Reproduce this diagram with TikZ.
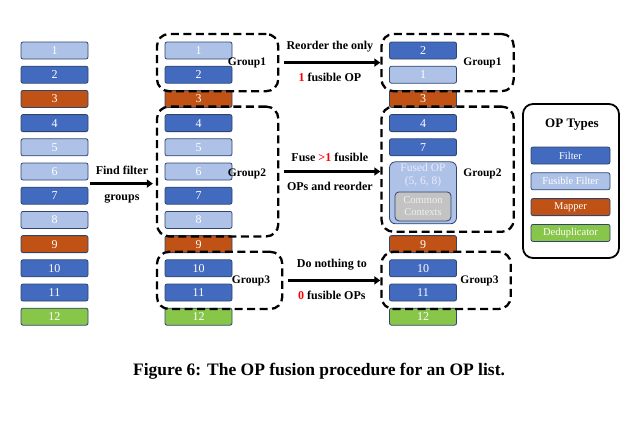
\documentclass[tikz,border=0pt]{standalone}
\usepackage{fontspec}
\setmainfont{Liberation Serif}
\usepackage{xcolor}
\usetikzlibrary{arrows.meta, positioning, fit, calc}

\definecolor{filterblue}{RGB}{66,106,190}
\definecolor{fusibleblue}{RGB}{173,194,230}
\definecolor{mapperorange}{RGB}{191,82,20}
\definecolor{dedupgreen}{RGB}{135,198,72}
\definecolor{opborder}{RGB}{47,69,110}
\definecolor{ctxgray}{RGB}{195,195,195}

\begin{document}
\begin{tikzpicture}[x=1pt, y=1pt,
  op/.style={draw=opborder, line width=0.8pt, rounded corners=2pt, minimum width=67pt, minimum height=17pt, inner sep=0pt, outer sep=0pt, text=white, font=\fontsize{12}{13}\selectfont},
  filter/.style={op, fill=filterblue},
  fusible/.style={op, fill=fusibleblue},
  mapper/.style={op, fill=mapperorange},
  dedup/.style={op, fill=dedupgreen},
  group/.style={draw, line width=2.3pt, dash pattern=on 8pt off 4.5pt, rounded corners=12pt, inner sep=8pt},
  glabel/.style={font=\bfseries\fontsize{11.5}{13}\selectfont, inner xsep=4pt, inner ysep=1pt},
  lbl/.style={font=\bfseries\fontsize{12}{13}\selectfont, inner sep=1pt},
  arrow/.style={-{Triangle[length=6pt, width=8pt]}, line width=2.6pt},
  key/.style={minimum width=79pt, font=\fontsize{10.5}{12}\selectfont},
  node distance=7.2pt
]
  \useasboundingbox (0,0) rectangle (638,-426);

  % original OP list
  \node[fusible] (l1) at (54.5,-50.5) {1};
  \node[filter, below=of l1] (l2) {2};
  \node[mapper, below=of l2] (l3) {3};
  \node[filter, below=of l3] (l4) {4};
  \node[fusible, below=of l4] (l5) {5};
  \node[fusible, below=of l5] (l6) {6};
  \node[filter, below=of l6] (l7) {7};
  \node[fusible, below=of l7] (l8) {8};
  \node[mapper, below=of l8] (l9) {9};
  \node[filter, below=of l9] (l10) {10};
  \node[filter, below=of l10] (l11) {11};
  \node[dedup, below=of l11] (l12) {12};

  % grouped list
  \node[fusible] (m1) at (198.5,-50.5) {1};
  \node[filter, below=of m1] (m2) {2};
  \node[mapper, below=of m2] (m3) {3};
  \node[filter, below=of m3] (m4) {4};
  \node[fusible, below=of m4] (m5) {5};
  \node[fusible, below=of m5] (m6) {6};
  \node[filter, below=of m6] (m7) {7};
  \node[fusible, below=of m7] (m8) {8};
  \node[mapper, below=of m8] (m9) {9};
  \node[filter, below=of m9] (m10) {10};
  \node[filter, below=of m10] (m11) {11};
  \node[dedup, below=of m11] (m12) {12};

  \node[glabel] (g1lab) at ($(m1.east)!0.5!(m2.east)+(15,0)$) {Group1};
  \node[glabel] (g2lab) at ($(m6.east)+(15,-2)$) {Group2};
  \node[glabel] (g3lab) at ($(m10.east)!0.5!(m11.east)+(19,-1)$) {Group3};
  \node[group, fit=(m1)(m2)(g1lab)] (gm1) {};
  \node[group, fit=(m4)(m8)(g2lab)] (gm2) {};
  \node[group, fit=(m10)(m11)(g3lab)] (gm3) {};

  % fused list
  \node[filter] (r2) at (423,-50.5) {2};
  \node[fusible, below=of r2] (r1) {1};
  \node[mapper, below=of r1] (r3) {3};
  \node[filter, below=of r3] (r4) {4};
  \node[filter, below=of r4] (r7) {7};
  \node[op, fill=fusibleblue, rounded corners=6pt, minimum height=62pt, below=6pt of r7] (fused) {};
  \node[align=center, inner sep=0.5pt, text=white!92!blue, font=\fontsize{11.5}{13.5}\selectfont, below=1pt of fused.north] (fusedtxt) {Fused OP\\(5, 6, 8)};
  \node[draw=opborder, line width=0.8pt, fill=ctxgray, rounded corners=4pt, minimum width=56pt, minimum height=29pt, align=center, text=white!94!black, font=\fontsize{10.5}{12}\selectfont, above=2.5pt of fused.south] (ctx) {Common\\Contexts};
  \node[mapper] (r9) at (m9 -| r7) {9};
  \node[filter, below=of r9] (r10) {10};
  \node[filter, below=of r10] (r11) {11};
  \node[dedup, below=of r11] (r12) {12};

  \node[glabel] (g1labr) at ($(r2.east |- g1lab)+(26,0)$) {Group1};
  \node[glabel] (g2labr) at ($(r2.east |- g2lab)+(26,0)$) {Group2};
  \node[glabel] (g3labr) at ($(r2.east |- g3lab)+(23,0)$) {Group3};
  \node[group, fit=(r2)(r1)(g1labr)] (gr1) {};
  \node[group, fit=(r4)(fused)(g2labr)] (gr2) {};
  \node[group, fit=(r10)(r11)(g3labr)] (gr3) {};

  % steps
  \coordinate (fstart) at ($(l6.east)!0.5!(l7.east)$);
  \draw[arrow, shorten <=2pt, shorten >=3pt] (fstart) -- (fstart -| gm2.west)
    node[lbl, midway, above=7pt] (find1) {Find filter}
    node[lbl, midway, below=8pt] (find2) {groups};
  \draw[arrow, shorten <=5pt] (gm1.east) -- (gm1.east -| gr1.west)
    node[lbl, midway, above=8pt] (re1) {Reorder the only}
    node[lbl, midway, below=8pt] (re2) {\textcolor{red}{1} fusible OP};
  \draw[arrow, shorten <=5pt] (gm2.east) -- (gm2.east -| gr2.west)
    node[lbl, midway, above=8pt] (fu1) {Fuse \textcolor{red}{>1} fusible}
    node[lbl, midway, below=8pt] (fu2) {OPs and reorder};
  \draw[arrow, shorten <=5pt] (gm3.east) -- (gm3.east -| gr3.west)
    node[lbl, midway, above=8pt] (dn1) {Do nothing to}
    node[lbl, midway, below=8pt] (dn2) {\textcolor{red}{0} fusible OPs};

  % legend
  \node[draw, line width=1.8pt, rounded corners=10pt, minimum width=96pt, minimum height=154pt] (legend) at (571,-181) {};
  \node[font=\bfseries\fontsize{13}{15}\selectfont] (ltitle) at (572,-125) {OP Types};
  \node[filter, key] (kfilter) at (570.5,-155.5) {Filter};
  \node[fusible, key, below=8.8pt of kfilter] (kfusible) {Fusible Filter};
  \node[mapper, key, below=8.8pt of kfusible] (kmapper) {Mapper};
  \node[dedup, key, below=8.8pt of kmapper] (kdedup) {Deduplicator};

  \node[font=\bfseries\fontsize{17.5}{20}\selectfont] (caption) at (319,-371) {Figure 6: The OP fusion procedure for an OP list.};
\end{tikzpicture}
\end{document}
